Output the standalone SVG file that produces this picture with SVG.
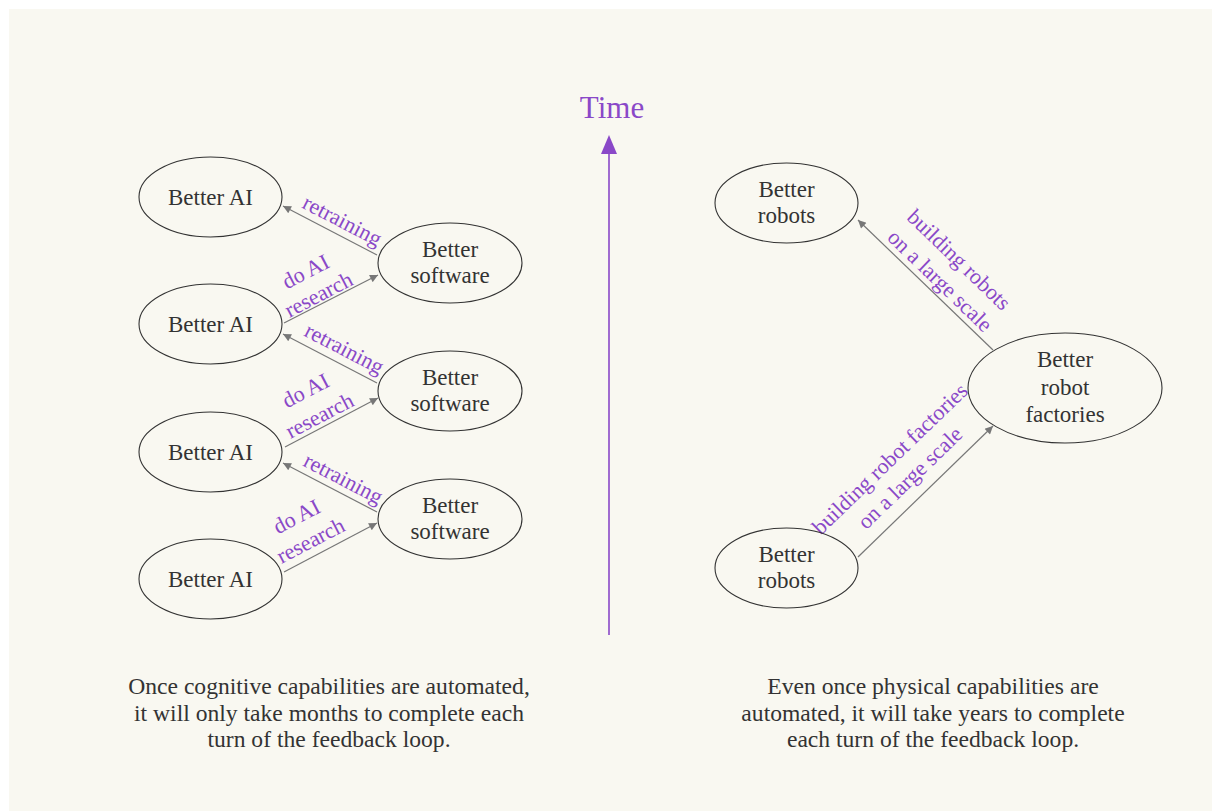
<svg xmlns="http://www.w3.org/2000/svg" width="1212" height="811" viewBox="0 0 1212 811">
<style>
.node ellipse{fill:none;stroke:#333;stroke-width:1.1}
.nt{font-family:"Liberation Serif",serif;font-size:23px;fill:#333;text-anchor:middle}
.lbl{font-family:"Liberation Serif",serif;font-size:22px;fill:#8a48c8;text-anchor:middle}
.cap{font-family:"Liberation Serif",serif;font-size:23.6px;fill:#333;text-anchor:middle}
.edge{stroke:#777;stroke-width:1.2;fill:none;marker-end:url(#ah)}
</style>
<defs>
<marker id="ah" viewBox="0 0 10 10" refX="10" refY="5" markerWidth="10" markerHeight="8" markerUnits="userSpaceOnUse" orient="auto"><path d="M0,0L10,5L0,10z" fill="#777"/></marker>
</defs>
<rect x="0" y="0" width="1212" height="811" fill="#ffffff"/>
<rect x="9" y="9" width="1203" height="802" fill="#f9f8f1"/>

<g id="time-axis">
<line x1="609" y1="150" x2="609" y2="635" stroke="#8a48c8" stroke-width="1.6"/>
<path d="M609,135L617,154L601,154z" fill="#8a48c8"/>
<text x="612" y="118" font-family="Liberation Serif,serif" font-size="31" fill="#8a48c8" text-anchor="middle">Time</text>
</g>

<g id="connectors">
<line class="edge" x1="377" y1="255" x2="283" y2="206"/>
<line class="edge" x1="284" y1="323" x2="378" y2="275"/>
<line class="edge" x1="377" y1="383" x2="283" y2="334"/>
<line class="edge" x1="285" y1="447" x2="378" y2="398"/>
<line class="edge" x1="377" y1="512" x2="283" y2="463"/>
<line class="edge" x1="284" y1="572" x2="377" y2="523"/>
<line class="edge" x1="993" y1="350" x2="858" y2="220"/>
<line class="edge" x1="858" y1="557" x2="993" y2="426"/>
</g>

<g id="labels">
<text class="lbl" transform="translate(339,227) rotate(27.5)">retraining</text>
<text class="lbl" transform="translate(341,355) rotate(27.5)">retraining</text>
<text class="lbl" transform="translate(340,485) rotate(27.5)">retraining</text>
<text class="lbl" transform="translate(309,278) rotate(-27.5)">do AI</text>
<text class="lbl" transform="translate(322,301) rotate(-27.5)">research</text>
<text class="lbl" transform="translate(309,397) rotate(-27.5)">do AI</text>
<text class="lbl" transform="translate(323,422) rotate(-27.5)">research</text>
<text class="lbl" transform="translate(300,523) rotate(-27.5)">do AI</text>
<text class="lbl" transform="translate(314,547) rotate(-27.5)">research</text>
<text class="lbl" transform="translate(954,265) rotate(44)">building robots</text>
<text class="lbl" transform="translate(935,286) rotate(44)">on a large scale</text>
<text class="lbl" transform="translate(895,464) rotate(-44)">building robot factories</text>
<text class="lbl" transform="translate(915,483) rotate(-44)">on a large scale</text>
</g>

<g id="ai1" class="node"><ellipse cx="210.5" cy="197" rx="71.5" ry="40"/><text class="nt" x="210.5" y="205">Better AI</text></g>
<g id="ai2" class="node"><ellipse cx="210.5" cy="324" rx="71.5" ry="40"/><text class="nt" x="210.5" y="332">Better AI</text></g>
<g id="ai3" class="node"><ellipse cx="210.5" cy="452" rx="71.5" ry="40"/><text class="nt" x="210.5" y="460">Better AI</text></g>
<g id="ai4" class="node"><ellipse cx="210.5" cy="579" rx="71.5" ry="40"/><text class="nt" x="210.5" y="587">Better AI</text></g>
<g id="sw1" class="node"><ellipse cx="450" cy="263" rx="72" ry="40"/><text class="nt" x="450" y="257">Better</text><text class="nt" x="450" y="283">software</text></g>
<g id="sw2" class="node"><ellipse cx="450" cy="391" rx="72" ry="40"/><text class="nt" x="450" y="385">Better</text><text class="nt" x="450" y="411">software</text></g>
<g id="sw3" class="node"><ellipse cx="450" cy="519" rx="72" ry="40"/><text class="nt" x="450" y="513">Better</text><text class="nt" x="450" y="539">software</text></g>
<g id="robots-top" class="node"><ellipse cx="786.5" cy="203" rx="71.5" ry="40"/><text class="nt" x="786.5" y="197">Better</text><text class="nt" x="786.5" y="223">robots</text></g>
<g id="factories" class="node"><ellipse cx="1065" cy="388" rx="97" ry="55"/><text class="nt" x="1065" y="367">Better</text><text class="nt" x="1065" y="395">robot</text><text class="nt" x="1065" y="422">factories</text></g>
<g id="robots-bottom" class="node"><ellipse cx="786.5" cy="568" rx="71.5" ry="40"/><text class="nt" x="786.5" y="562">Better</text><text class="nt" x="786.5" y="588">robots</text></g>

<g id="captions">
<text class="cap" x="329" y="694">Once cognitive capabilities are automated,</text>
<text class="cap" x="329" y="721">it will only take months to complete each</text>
<text class="cap" x="329" y="747">turn of the feedback loop.</text>
<text class="cap" x="933" y="694">Even once physical capabilities are</text>
<text class="cap" x="933" y="721">automated, it will take years to complete</text>
<text class="cap" x="933" y="747">each turn of the feedback loop.</text>
</g>
</svg>
